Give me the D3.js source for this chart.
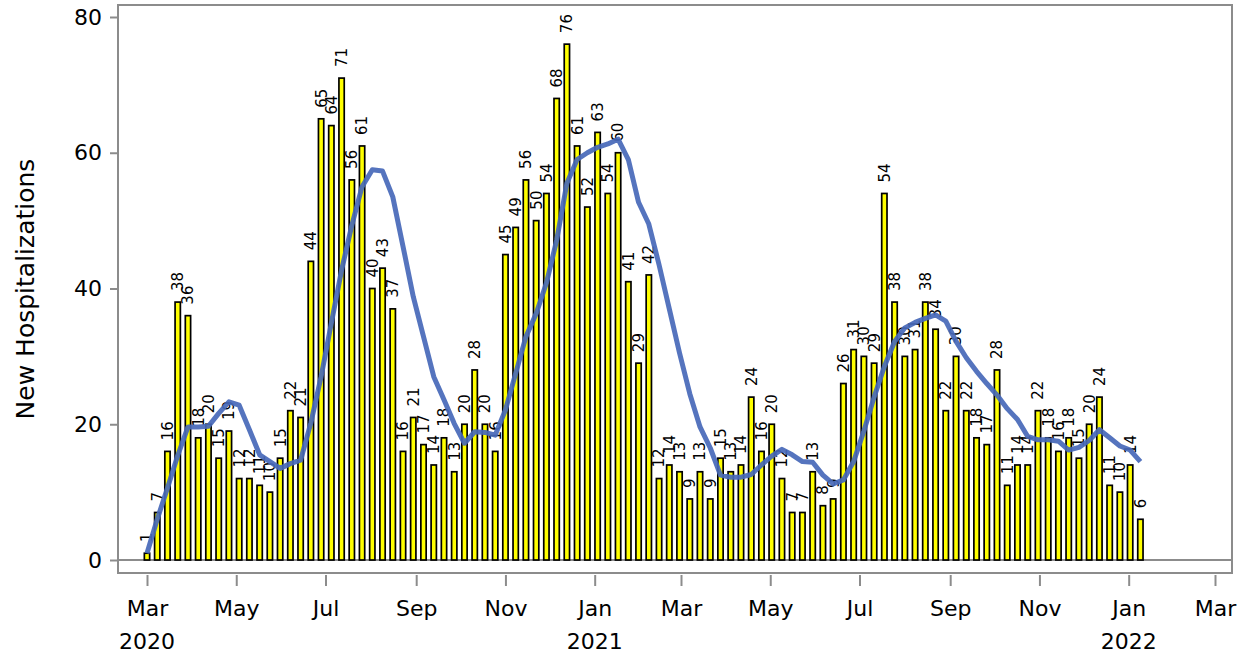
<!DOCTYPE html>
<html>
<head>
<meta charset="utf-8">
<script src="https://cdn.jsdelivr.net/npm/d3@7"></script>
<style>
  html, body { margin: 0; padding: 0; background: #fff; }
  svg { display: block; font-family: "DejaVu Sans", sans-serif; }
</style>
</head>
<body>
<svg id="chart" width="1249" height="657"></svg>
<script>
// ---- data ----
const weeks = [
  "2020-03-01","2020-03-08","2020-03-15","2020-03-22","2020-03-29",
  "2020-04-05","2020-04-12","2020-04-19","2020-04-26",
  "2020-05-03","2020-05-10","2020-05-17","2020-05-24","2020-05-31",
  "2020-06-07","2020-06-14","2020-06-21","2020-06-28",
  "2020-07-05","2020-07-12","2020-07-19","2020-07-26",
  "2020-08-02","2020-08-09","2020-08-16","2020-08-23","2020-08-30",
  "2020-09-06","2020-09-13","2020-09-20","2020-09-27",
  "2020-10-04","2020-10-11","2020-10-18","2020-10-25",
  "2020-11-01","2020-11-08","2020-11-15","2020-11-22","2020-11-29",
  "2020-12-06","2020-12-13","2020-12-20","2020-12-27",
  "2021-01-03","2021-01-10","2021-01-17","2021-01-24","2021-01-31",
  "2021-02-07","2021-02-14","2021-02-21","2021-02-28",
  "2021-03-07","2021-03-14","2021-03-21","2021-03-28",
  "2021-04-04","2021-04-11","2021-04-18","2021-04-25",
  "2021-05-02","2021-05-09","2021-05-16","2021-05-23","2021-05-30",
  "2021-06-06","2021-06-13","2021-06-20","2021-06-27",
  "2021-07-04","2021-07-11","2021-07-18","2021-07-25",
  "2021-08-01","2021-08-08","2021-08-15","2021-08-22","2021-08-29",
  "2021-09-05","2021-09-12","2021-09-19","2021-09-26",
  "2021-10-03","2021-10-10","2021-10-17","2021-10-24","2021-10-31",
  "2021-11-07","2021-11-14","2021-11-21","2021-11-28",
  "2021-12-05","2021-12-12","2021-12-19","2021-12-26",
  "2022-01-02","2022-01-09"
];
const hospitalizations = [
  1, 7, 16, 38, 36, 18, 20, 15, 19, 12, 12, 11, 10, 15, 22, 21,
  44, 65, 64, 71, 56, 61, 40, 43, 37, 16, 21, 17, 14, 18, 13, 20,
  28, 20, 16, 45, 49, 56, 50, 54, 68, 76, 61, 52, 63, 54, 60, 41,
  29, 42, 12, 14, 13, 9, 13, 9, 15, 13, 14, 24, 16, 20, 12, 7,
  7, 13, 8, 9, 26, 31, 30, 29, 54, 38, 30, 31, 38, 34, 22, 30,
  22, 18, 17, 28, 11, 14, 14, 22, 18, 16, 18, 15, 20, 24, 11, 10,
  14, 6
];
const movingAverage = [
  1, 6, 10.6, 15.4, 19.6, 19.6, 19.7, 21.6, 23.3, 22.8, 19.2, 15.5, 14.5, 13.5, 14.2, 14.7,
  20.2, 27, 34.9, 42.7, 49.3, 55, 57.5, 57.3, 53.5, 46.2, 38.8, 32.9, 27, 23.6, 20.1, 17.2,
  18.9, 18.8, 18.4, 22.1, 27.5, 32.9, 36.3, 40.8, 47.1, 55.5, 59, 60, 60.8, 61.3, 62, 59,
  52.7, 49.5, 43.5, 37, 30.5, 24.5, 19.6, 16.5, 12.5, 12.2, 12.2, 12.6, 14, 15.3, 16.3, 15.5,
  14.5, 14.4, 12.5, 11.2, 11.8, 14.5, 19, 24, 28.5, 32.2, 34.2, 35, 35.6, 36.1, 35.2, 32.2,
  29.8, 27.8, 26, 24.3, 22.3, 20.7, 18.2, 17.7, 17.7, 17.5, 16.2, 16.6, 17.6, 19.2, 18, 16.8,
  16.2, 14.5
];
const yTicks = [0, 20, 40, 60, 80];
const xTickDates = [
  "2020-03-01","2020-05-01","2020-07-01","2020-09-01","2020-11-01",
  "2021-01-01","2021-03-01","2021-05-01","2021-07-01","2021-09-01","2021-11-01",
  "2022-01-01","2022-03-01"
];
const yearLabelDates = ["2020-03-01", "2021-01-01", "2022-01-01"];
const yearLabels = ["2020", "2021", "2022"];
const yTitle = "New Hospitalizations";

// ---- layout ----
const frame = { left: 118, right: 1232, top: 5, bottom: 573 };
const parse = d3.utcParse("%Y-%m-%d");
const svg = d3.select("#chart");

const x = d3.scaleUtc()
  .domain([parse("2020-03-01"), parse("2022-03-01")])
  .range([147, 1215]);
const y = d3.scaleLinear().domain([0, 80]).range([560, 17]);

const data = weeks.map((w, i) => ({
  date: parse(w), value: hospitalizations[i], avg: movingAverage[i]
}));

const gray = "#8c8c8c";
const tickFont = 22;

// frame
svg.append("rect")
  .attr("x", frame.left).attr("y", frame.top)
  .attr("width", frame.right - frame.left)
  .attr("height", frame.bottom - frame.top)
  .attr("fill", "none").attr("stroke", gray).attr("stroke-width", 2);

// zero baseline
svg.append("line")
  .attr("x1", frame.left).attr("x2", frame.right)
  .attr("y1", y(0)).attr("y2", y(0))
  .attr("stroke", gray).attr("stroke-width", 2);

// y axis
const yAxis = d3.axisLeft(y).tickValues(yTicks).tickSize(7).tickPadding(8);
const gy = svg.append("g").attr("transform", `translate(${frame.left - 1},0)`).call(yAxis);
gy.select(".domain").remove();
gy.selectAll(".tick line").attr("stroke", gray).attr("stroke-width", 2);
gy.selectAll(".tick text").attr("font-size", tickFont).attr("fill", "#000")
  .attr("font-family", "DejaVu Sans, sans-serif");

// x axis
const xAxis = d3.axisBottom(x)
  .tickValues(xTickDates.map(parse))
  .tickFormat(d3.utcFormat("%b"))
  .tickSize(11).tickPadding(14);
const gx = svg.append("g").attr("transform", `translate(0,${frame.bottom + 2})`).call(xAxis);
gx.select(".domain").remove();
gx.selectAll(".tick line").attr("stroke", gray).attr("stroke-width", 2);
gx.selectAll(".tick text").attr("font-size", tickFont).attr("fill", "#000")
  .attr("font-family", "DejaVu Sans, sans-serif");

// year labels
svg.append("g").selectAll("text")
  .data(yearLabelDates)
  .join("text")
  .attr("x", d => x(parse(d)))
  .attr("y", 649)
  .attr("text-anchor", "middle")
  .attr("font-size", tickFont)
  .text((d, i) => yearLabels[i]);

// y title
svg.append("text")
  .attr("transform", `translate(34,289) rotate(-90)`)
  .attr("text-anchor", "middle")
  .attr("font-size", 25)
  .text(yTitle);

// bars
const barW = 5.3;
svg.append("g").selectAll("rect")
  .data(data)
  .join("rect")
  .attr("x", d => x(d.date) - barW / 2)
  .attr("y", d => y(d.value))
  .attr("width", barW)
  .attr("height", d => y(0) - y(d.value))
  .attr("fill", "#ffff00")
  .attr("stroke", "#000")
  .attr("stroke-width", 1.7);

// bar labels
svg.append("g").selectAll("text")
  .data(data)
  .join("text")
  .attr("transform", d => `translate(${x(d.date)},${y(d.value) - 11}) rotate(-90)`)
  .attr("dy", "0.36em")
  .attr("text-anchor", "start")
  .attr("font-size", 15)
  .attr("fill", "#000")
  .text(d => d.value);

// moving average line
const line = d3.line()
  .x(d => x(d.date))
  .y(d => y(d.avg));
svg.append("path")
  .datum(data)
  .attr("d", line)
  .attr("fill", "none")
  .attr("stroke", "#4668b8")
  .attr("stroke-opacity", 0.92)
  .attr("stroke-width", 5)
  .attr("stroke-linejoin", "round");
</script>
</body>
</html>
